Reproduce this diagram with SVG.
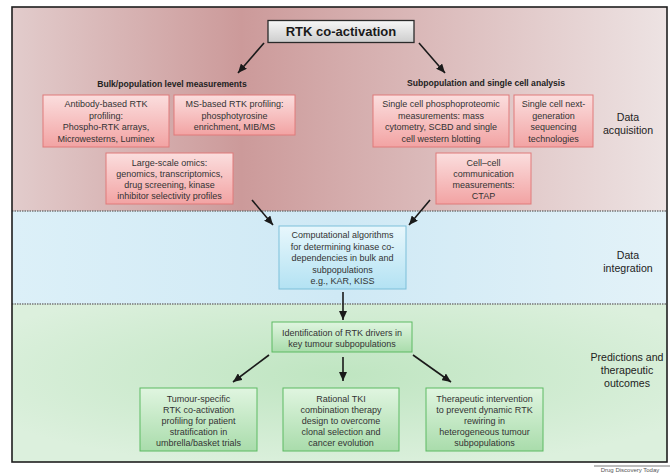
<svg xmlns="http://www.w3.org/2000/svg" width="672" height="473" viewBox="0 0 672 473">
<defs>
<linearGradient id="bgRed" x1="0" y1="0" x2="1" y2="0">
<stop offset="0" stop-color="#e2cccc"/>
<stop offset="0.35" stop-color="#cc9a9a"/>
<stop offset="0.6" stop-color="#d9b6b6"/>
<stop offset="1" stop-color="#ede3e3"/>
</linearGradient>
<linearGradient id="bgBlue" x1="0" y1="0" x2="1" y2="0">
<stop offset="0" stop-color="#dcf0f8"/>
<stop offset="0.5" stop-color="#cfe9f5"/>
<stop offset="1" stop-color="#e3f2f8"/>
</linearGradient>
<radialGradient id="bgGreen" cx="0.5" cy="0.45" r="0.6">
<stop offset="0" stop-color="#bfe5c1"/>
<stop offset="1" stop-color="#dcf0dd"/>
</radialGradient>
<linearGradient id="gRed" x1="0" y1="0" x2="0" y2="1">
<stop offset="0" stop-color="#fbdede"/>
<stop offset="1" stop-color="#f2a3a3"/>
</linearGradient>
<linearGradient id="gBlue" x1="0" y1="0" x2="0" y2="1">
<stop offset="0" stop-color="#e8f7fc"/>
<stop offset="1" stop-color="#b3e2f3"/>
</linearGradient>
<linearGradient id="gGreen" x1="0" y1="0" x2="0" y2="1">
<stop offset="0" stop-color="#e0f5e0"/>
<stop offset="1" stop-color="#a9dcab"/>
</linearGradient>
<linearGradient id="gGray" x1="0" y1="0" x2="0" y2="1">
<stop offset="0" stop-color="#f7f7f7"/>
<stop offset="1" stop-color="#cdcdcd"/>
</linearGradient>
<marker id="ah" markerUnits="userSpaceOnUse" markerWidth="10" markerHeight="8" refX="9" refY="4" orient="auto">
<path d="M0,0 L9,4 L0,8 Z" fill="#1a1a1a"/>
</marker>
<style>
text{font-family:"Liberation Sans",Arial,sans-serif;fill:#333;text-anchor:middle}
.t{font-size:9px}
.h{font-size:8.6px;font-weight:bold;fill:#222}
.lab{font-size:10.6px;fill:#222}
.red{fill:url(#gRed);stroke:#e07a7a;stroke-width:1}
.blue{fill:url(#gBlue);stroke:#7cbfd9;stroke-width:1}
.green{fill:url(#gGreen);stroke:#5cba62;stroke-width:1}
.arr{stroke:#1a1a1a;stroke-width:1.6;fill:none;marker-end:url(#ah)}
.dot{stroke:#777;stroke-width:1.5;stroke-dasharray:1.5 1}
</style>
</defs>
<rect x="0" y="0" width="672" height="473" fill="#ffffff"/>
<g id="background">
<rect x="12" y="7" width="655" height="204" fill="url(#bgRed)"/>
<rect x="12" y="211" width="655" height="93" fill="url(#bgBlue)"/>
<rect x="12" y="304" width="655" height="158" fill="url(#bgGreen)"/>
<line class="dot" x1="12" y1="211" x2="667" y2="211"/>
<line class="dot" x1="12" y1="304" x2="667" y2="304"/>
<rect x="12" y="7" width="655" height="455" fill="none" stroke="#1e1e1e" stroke-width="1.6"/>
<text class="lab" x="628" y="121">Data</text>
<text class="lab" x="628" y="134">acquisition</text>
<text class="lab" x="628" y="259">Data</text>
<text class="lab" x="628" y="272">integration</text>
<text class="lab" x="627" y="361">Predictions and</text>
<text class="lab" x="627" y="374">therapeutic</text>
<text class="lab" x="627" y="387">outcomes</text>
<text class="h" x="172" y="87">Bulk/population level measurements</text>
<text class="h" x="486" y="86">Subpopulation and single cell analysis</text>
</g>
<g id="connectors">
<line class="arr" x1="264" y1="43" x2="238" y2="73"/>
<line class="arr" x1="419" y1="43" x2="445" y2="73"/>
<line class="arr" x1="252" y1="200" x2="273" y2="225"/>
<line class="arr" x1="430" y1="200" x2="409" y2="225"/>
<line class="arr" x1="343" y1="292" x2="343" y2="320"/>
<line class="arr" x1="269" y1="355" x2="233" y2="382"/>
<line class="arr" x1="343" y1="357" x2="343" y2="381"/>
<line class="arr" x1="413" y1="355" x2="451" y2="382"/>
</g>
<g id="rtk">
<rect x="268" y="20.5" width="146" height="22" fill="url(#gGray)" stroke="#2a2a2a" stroke-width="1.3"/>
<text x="341" y="36" style="font-size:13px;font-weight:bold;fill:#1a1a1a">RTK co-activation</text>
</g>
<g id="antibody">
<rect class="red" x="43" y="95" width="126" height="52"/>
<text class="t" x="106" y="107">Antibody-based RTK</text>
<text class="t" x="106" y="118.5">profiling:</text>
<text class="t" x="106" y="130">Phospho-RTK arrays,</text>
<text class="t" x="106" y="141.5">Microwesterns, Luminex</text>
</g>
<g id="ms">
<rect class="red" x="174" y="95" width="121" height="40"/>
<text class="t" x="234.5" y="107">MS-based RTK profiling:</text>
<text class="t" x="234.5" y="118.5">phosphotyrosine</text>
<text class="t" x="234.5" y="130">enrichment, MIB/MS</text>
</g>
<g id="singlecell">
<rect class="red" x="373" y="95" width="136" height="52"/>
<text class="t" x="441" y="107">Single cell phosphoproteomic</text>
<text class="t" x="441" y="118.5">measurements: mass</text>
<text class="t" x="441" y="130">cytometry, SCBD and single</text>
<text class="t" x="441" y="141.5">cell western blotting</text>
</g>
<g id="ngs">
<rect class="red" x="514" y="95" width="79" height="52"/>
<text class="t" x="553.5" y="107">Single cell next-</text>
<text class="t" x="553.5" y="118.5">generation</text>
<text class="t" x="553.5" y="130">sequencing</text>
<text class="t" x="553.5" y="141.5">technologies</text>
</g>
<g id="omics">
<rect class="red" x="106" y="153" width="127" height="51"/>
<text class="t" x="169.5" y="166">Large-scale omics:</text>
<text class="t" x="169.5" y="177">genomics, transcriptomics,</text>
<text class="t" x="169.5" y="188">drug screening, kinase</text>
<text class="t" x="169.5" y="199">inhibitor selectivity profiles</text>
</g>
<g id="cellcell">
<rect class="red" x="436" y="153" width="95" height="51"/>
<text class="t" x="483.5" y="166">Cell–cell</text>
<text class="t" x="483.5" y="177">communication</text>
<text class="t" x="483.5" y="188">measurements:</text>
<text class="t" x="483.5" y="199">CTAP</text>
</g>
<g id="computational">
<rect class="blue" x="279" y="226" width="127" height="63"/>
<text class="t" x="342.5" y="238">Computational algorithms</text>
<text class="t" x="342.5" y="249.5">for determining kinase co-</text>
<text class="t" x="342.5" y="261">dependencies in bulk and</text>
<text class="t" x="342.5" y="272.5">subpopulations</text>
<text class="t" x="342.5" y="284">e.g., KAR, KISS</text>
</g>
<g id="drivers">
<rect class="green" x="272" y="322" width="140" height="30"/>
<text class="t" x="342" y="336">Identification of RTK drivers in</text>
<text class="t" x="342" y="347">key tumour subpopulations</text>
</g>
<g id="stratification">
<rect class="green" x="140" y="388" width="117" height="63"/>
<text class="t" x="198.5" y="401.5">Tumour-specific</text>
<text class="t" x="198.5" y="412.5">RTK co-activation</text>
<text class="t" x="198.5" y="423.5">profiling for patient</text>
<text class="t" x="198.5" y="434.5">stratification in</text>
<text class="t" x="198.5" y="445.5">umbrella/basket trials</text>
</g>
<g id="tki">
<rect class="green" x="283" y="388" width="116" height="63"/>
<text class="t" x="341" y="401.5">Rational TKI</text>
<text class="t" x="341" y="412.5">combination therapy</text>
<text class="t" x="341" y="423.5">design to overcome</text>
<text class="t" x="341" y="434.5">clonal selection and</text>
<text class="t" x="341" y="445.5">cancer evolution</text>
</g>
<g id="intervention">
<rect class="green" x="426" y="388" width="117" height="63"/>
<text class="t" x="484.5" y="401.5">Therapeutic intervention</text>
<text class="t" x="484.5" y="412.5">to prevent dynamic RTK</text>
<text class="t" x="484.5" y="423.5">rewiring in</text>
<text class="t" x="484.5" y="434.5">heterogeneous tumour</text>
<text class="t" x="484.5" y="445.5">subpopulations</text>
</g>
<g id="credit">
<line x1="594" y1="466" x2="670" y2="466" stroke="#555" stroke-width="0.8"/>
<text x="630" y="472" style="font-size:6px;fill:#555">Drug Discovery Today</text>
</g>
</svg>
